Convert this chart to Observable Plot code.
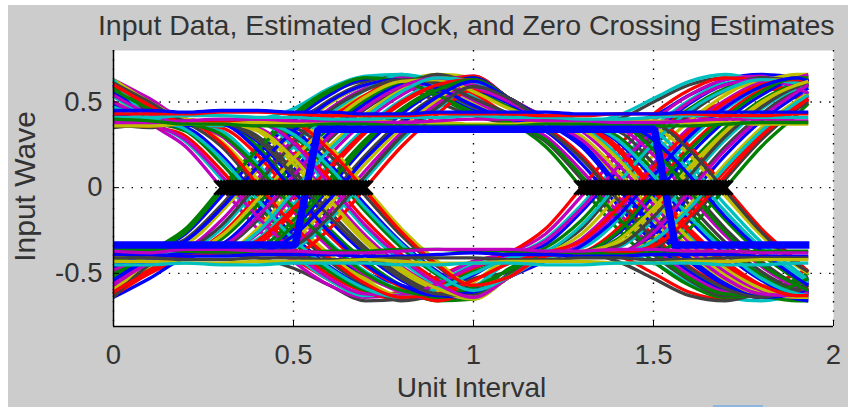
<!DOCTYPE html>
<html><head><meta charset="utf-8">
<script src="https://cdn.jsdelivr.net/npm/d3@7"></script>
<script src="https://cdn.jsdelivr.net/npm/@observablehq/plot@0.6"></script>
<style>
html,body{margin:0;padding:0;background:#fff;width:848px;height:407px;overflow:hidden}
#panel{position:absolute;left:8px;top:5px;width:840px;height:402px;background:#ccc}
#mark{position:absolute;left:713px;top:405px;width:50px;height:2px;background:#8fb6de}
#chart{position:absolute;left:0;top:0}
svg{background:transparent!important;font-family:"Liberation Sans",Arial,sans-serif}
</style></head><body>
<div id="panel"></div><div id="mark"></div><div id="chart"></div>
<script>
const titleText = "Input Data, Estimated Clock, and Zero Crossing Estimates";
const xLabel = "Unit Interval";
const yLabel = "Input Wave";
const xTicks = [0, 0.5, 1, 1.5, 2];
const yTicks = [-0.5, 0, 0.5];
const traceX = [0,.1,.2,.3,.4,.5,.6,.7,.8,.9,1,1.1,1.2,1.3,1.4,1.5,1.6,1.7,1.8,1.9,1.93];
const palette = ["#0000ff","#007f00","#ff0000","#00bfbf","#bf00bf","#bfbf00","#404040"];

const riseFall = [
[-.58,-.38,-.24,0,.24,.43,.57,.64,.62,.53,.43,.38,.24,0,-.24,-.43,-.57,-.64,-.62,-.53,-.5],
[-.44,-.38,-.27,-.05,.19,.39,.54,.63,.62,.55,.45,.39,.33,.14,-.10,-.32,-.49,-.60,-.63,-.58,-.55],
[-.62,-.38,-.30,-.10,.14,.35,.51,.61,.65,.57,.47,.38,.27,.05,-.19,-.39,-.54,-.63,-.62,-.55,-.52],
[-.41,-.38,-.33,-.14,.10,.32,.49,.60,.63,.58,.49,.41,.38,.27,.05,-.19,-.39,-.54,-.63,-.62,-.60],
[-.60,-.38,-.35,-.19,.05,.28,.46,.58,.64,.60,.51,.40,.30,.10,-.14,-.35,-.51,-.61,-.63,-.57,-.54],
[-.55,-.44,-.38,-.24,0,.24,.43,.57,.66,.62,.53,.43,.38,.35,.19,-.05,-.28,-.46,-.58,-.64,-.64],
[-.36,-.37,-.38,-.27,-.05,.19,.39,.54,.63,.62,.55,.42,.35,.19,-.05,-.28,-.46,-.58,-.64,-.60,-.58],
[-.50,-.41,-.38,-.30,-.10,.14,.35,.51,.61,.65,.57,.47,.40,.38,.30,.10,-.14,-.35,-.51,-.61,-.63],
[-.39,-.36,-.38,-.33,-.14,.10,.32,.49,.60,.63,.58,.49,.38,.24,0,-.24,-.43,-.57,-.64,-.62,-.60],
[-.60,-.47,-.38,-.35,-.19,.05,.28,.46,.58,.66,.60,.51,.42,.38,.38,.24,0,-.24,-.43,-.57,-.60],
[-.42,-.38,-.36,-.38,-.24,0,.24,.43,.57,.64,.62,.52,.40,.30,.10,-.14,-.35,-.51,-.61,-.63,-.62],
[-.56,-.43,-.39,-.38,-.27,-.05,.19,.39,.54,.63,.64,.52,.41,.33,.14,-.10,-.32,-.49,-.60,-.63,-.62],
[-.37,-.35,-.38,-.38,-.30,-.10,.14,.35,.51,.61,.63,.52,.40,.38,.38,.33,.14,-.10,-.32,-.49,-.54],
[-.63,-.50,-.40,-.38,-.33,-.14,.10,.32,.49,.60,.65,.52,.41,.38,.24,0,-.24,-.43,-.57,-.64,-.64],
[-.45,-.39,-.37,-.38,-.35,-.19,.05,.28,.46,.58,.64,.52,.40,.38,.38,.27,.05,-.19,-.39,-.54,-.58],
[-.53,-.42,-.38,-.36,-.38,-.24,0,.24,.43,.57,.64,.52,.41,.38,.27,.05,-.19,-.39,-.54,-.63,-.63],
[-.38,-.36,-.39,-.38,-.38,-.27,-.05,.19,.39,.54,.63,.52,.40,.37,.33,.14,-.10,-.32,-.49,-.60,-.62],
[-.59,-.46,-.37,-.38,-.38,-.30,-.10,.14,.35,.51,.61,.52,.40,.38,.38,.35,.19,-.05,-.28,-.46,-.50],
[-.48,-.40,-.36,-.38,-.38,-.33,-.14,.10,.32,.49,.60,.52,.41,.38,.35,.19,-.05,-.28,-.46,-.58,-.60],
[-.35,-.37,-.38,-.38,-.37,-.35,-.19,.05,.28,.46,.58,.52,.40,.38,.38,.30,.10,-.14,-.35,-.51,-.55],
[-.61,-.48,-.38,-.38,-.38,-.38,-.24,0,.24,.43,.57,.51,.40,.38,.38,.38,.24,0,-.24,-.43,-.49],
[-.52,-.38,-.26,-.02,.22,.41,.56,.64,.62,.54,.44,.38,.28,.07,-.17,-.37,-.53,-.62,-.63,-.56,-.53],
[-.46,-.38,-.31,-.12,.12,.33,.50,.60,.63,.58,.48,.40,.38,.26,.02,-.22,-.41,-.56,-.64,-.62,-.60],
[-.64,-.45,-.37,-.22,.02,.26,.45,.57,.63,.61,.52,.43,.34,.17,-.07,-.30,-.47,-.59,-.64,-.59,-.57],
[-.40,-.37,-.38,-.28,-.07,.17,.37,.53,.62,.63,.56,.46,.39,.34,.17,-.07,-.30,-.47,-.59,-.64,-.64],
[-.57,-.44,-.38,-.34,-.17,.07,.30,.47,.59,.64,.59,.50,.39,.28,.07,-.17,-.37,-.53,-.62,-.63,-.61],
[-.36,-.38,-.37,-.38,-.26,-.02,.22,.41,.56,.64,.62,.52,.41,.38,.28,.07,-.17,-.37,-.53,-.62,-.63],
[-.61,-.49,-.39,-.38,-.31,-.12,.12,.33,.50,.60,.63,.52,.41,.37,.22,-.02,-.26,-.45,-.57,-.63,-.63],
[-.43,-.38,-.36,-.38,-.37,-.22,.02,.26,.45,.57,.63,.52,.40,.38,.37,.22,-.02,-.26,-.45,-.57,-.60],
[-.54,-.42,-.38,-.37,-.38,-.28,-.07,.17,.37,.53,.62,.52,.41,.38,.38,.28,.07,-.17,-.37,-.53,-.57],
[-.38,-.35,-.37,-.38,-.38,-.34,-.17,.07,.30,.47,.59,.52,.40,.38,.38,.37,.22,-.02,-.26,-.45,-.49]
];

const fallRise = [
[.58,.38,.24,0,-.24,-.43,-.57,-.64,-.62,-.53,-.43,-.38,-.27,-.05,.19,.39,.54,.63,.65,.55,.52],
[.44,.38,.27,.05,-.19,-.39,-.54,-.63,-.62,-.55,-.45,-.40,-.30,-.10,.14,.35,.51,.61,.63,.57,.54],
[.62,.38,.30,.10,-.14,-.35,-.51,-.61,-.65,-.57,-.47,-.38,-.24,0,.24,.43,.57,.64,.62,.53,.50],
[.41,.38,.33,.14,-.10,-.32,-.49,-.60,-.63,-.58,-.49,-.42,-.35,-.19,.05,.28,.46,.58,.64,.60,.58],
[.60,.38,.35,.19,-.05,-.28,-.46,-.58,-.64,-.60,-.51,-.39,-.33,-.14,.10,.32,.49,.60,.63,.58,.55],
[.55,.44,.38,.24,0,-.24,-.43,-.57,-.66,-.62,-.53,-.49,-.38,-.24,0,.24,.43,.57,.64,.62,.60],
[.36,.37,.38,.27,.05,-.19,-.39,-.54,-.63,-.62,-.55,-.41,-.38,-.27,-.05,.19,.39,.54,.63,.62,.60],
[.50,.41,.38,.30,.10,-.14,-.35,-.51,-.61,-.65,-.57,-.52,-.40,-.30,-.10,.14,.35,.51,.61,.63,.62],
[.39,.36,.38,.33,.14,-.10,-.32,-.49,-.60,-.63,-.58,-.43,-.38,-.35,-.19,.05,.28,.46,.58,.64,.64],
[.60,.47,.38,.35,.19,-.05,-.28,-.46,-.58,-.66,-.60,-.52,-.40,-.38,-.38,-.33,-.14,.10,.32,.49,.54],
[.42,.38,.36,.38,.24,0,-.24,-.43,-.57,-.64,-.62,-.47,-.40,-.38,-.30,-.10,.14,.35,.51,.61,.63],
[.56,.43,.39,.38,.27,.05,-.19,-.39,-.54,-.63,-.64,-.52,-.40,-.38,-.38,-.27,-.05,.19,.39,.54,.58],
[.37,.35,.38,.38,.30,.10,-.14,-.35,-.51,-.61,-.63,-.51,-.42,-.38,-.38,-.24,0,.24,.43,.57,.60],
[.63,.50,.40,.38,.33,.14,-.10,-.32,-.49,-.60,-.65,-.52,-.40,-.37,-.33,-.14,.10,.32,.49,.60,.62],
[.45,.39,.37,.38,.35,.19,-.05,-.28,-.46,-.58,-.64,-.52,-.41,-.33,-.14,.10,.32,.49,.60,.63,.62],
[.53,.42,.38,.36,.38,.24,0,-.24,-.43,-.57,-.64,-.52,-.41,-.38,-.35,-.19,.05,.28,.46,.58,.60],
[.38,.36,.39,.38,.38,.27,.05,-.19,-.39,-.54,-.63,-.52,-.41,-.38,-.24,0,.24,.43,.57,.64,.64],
[.59,.46,.37,.38,.38,.30,.10,-.14,-.35,-.51,-.61,-.51,-.40,-.38,-.38,-.38,-.24,0,.24,.43,.49],
[.48,.40,.36,.38,.38,.33,.14,-.10,-.32,-.49,-.60,-.52,-.41,-.38,-.27,-.05,.19,.39,.54,.63,.63],
[.35,.37,.38,.38,.37,.35,.19,-.05,-.28,-.46,-.58,-.52,-.40,-.38,-.38,-.35,-.19,.05,.28,.46,.50],
[.61,.48,.38,.38,.38,.38,.24,0,-.24,-.43,-.57,-.52,-.40,-.38,-.38,-.30,-.10,.14,.35,.51,.55],
[.50,.38,.28,.07,-.17,-.37,-.53,-.62,-.63,-.56,-.46,-.40,-.31,-.12,.12,.33,.50,.60,.63,.58,.55],
[.63,.41,.34,.17,-.07,-.30,-.47,-.59,-.64,-.59,-.50,-.41,-.37,-.22,.02,.26,.45,.57,.63,.61,.60],
[.40,.36,.38,.26,.02,-.22,-.41,-.56,-.64,-.62,-.54,-.44,-.38,-.31,-.12,.12,.33,.50,.60,.63,.62],
[.57,.46,.38,.31,.12,-.12,-.33,-.50,-.60,-.63,-.58,-.48,-.40,-.38,-.26,-.02,.22,.41,.56,.64,.64],
[.43,.39,.38,.37,.22,-.02,-.26,-.45,-.57,-.63,-.61,-.52,-.43,-.34,-.17,.07,.30,.47,.59,.64,.62],
[.61,.50,.39,.38,.28,.07,-.17,-.37,-.53,-.62,-.63,-.52,-.41,-.38,-.34,-.17,.07,.30,.47,.59,.61],
[.37,.36,.38,.38,.34,.17,-.07,-.30,-.47,-.59,-.64,-.52,-.41,-.38,-.31,-.12,.12,.33,.50,.60,.62],
[.54,.43,.38,.37,.38,.26,.02,-.22,-.41,-.56,-.64,-.52,-.40,-.38,-.38,-.26,-.02,.22,.41,.56,.60],
[.47,.40,.37,.38,.38,.31,.12,-.12,-.33,-.50,-.60,-.52,-.41,-.38,-.38,-.31,-.12,.12,.33,.50,.54],
[.60,.48,.38,.38,.38,.37,.22,-.02,-.26,-.45,-.57,-.52,-.40,-.38,-.38,-.34,-.17,.07,.30,.47,.52]
];

const humpsHigh = [
[.55,.45,.38,.38,.38,.40,.50,.60,.64,.62,.52,.43,.38,.38,.38,.42,.54,.63,.66,.64,.62],
[.60,.48,.40,.38,.38,.42,.55,.62,.60,.50,.42,.38,.38,.38,.40,.50,.60,.64,.60,.52,.50],
[.50,.42,.38,.38,.38,.38,.44,.54,.62,.66,.64,.50,.39,.38,.38,.38,.46,.56,.62,.66,.66],
[.63,.52,.40,.38,.38,.38,.40,.48,.56,.62,.65,.52,.40,.38,.38,.38,.40,.50,.58,.64,.66],
[.46,.40,.38,.39,.40,.46,.58,.65,.66,.56,.46,.40,.38,.38,.42,.52,.62,.66,.62,.56,.54],
[.57,.44,.38,.38,.38,.38,.42,.52,.58,.60,.60,.50,.41,.38,.38,.38,.42,.50,.56,.60,.61]
];

const humpsLow = [
[-.52,-.43,-.38,-.38,-.38,-.40,-.48,-.58,-.65,-.63,-.54,-.44,-.38,-.38,-.38,-.44,-.56,-.64,-.66,-.62,-.60],
[-.62,-.50,-.41,-.38,-.38,-.42,-.54,-.63,-.61,-.52,-.43,-.39,-.38,-.38,-.40,-.50,-.61,-.65,-.60,-.50,-.48],
[-.48,-.41,-.38,-.38,-.38,-.38,-.43,-.52,-.60,-.66,-.65,-.52,-.40,-.38,-.38,-.38,-.47,-.58,-.63,-.66,-.66],
[-.64,-.53,-.41,-.38,-.38,-.38,-.41,-.50,-.57,-.63,-.64,-.50,-.39,-.38,-.38,-.38,-.41,-.51,-.59,-.65,-.66],
[-.47,-.41,-.38,-.39,-.41,-.47,-.57,-.66,-.65,-.57,-.47,-.41,-.38,-.38,-.43,-.53,-.63,-.66,-.61,-.55,-.53],
[-.58,-.45,-.38,-.38,-.38,-.38,-.43,-.53,-.59,-.61,-.61,-.51,-.41,-.38,-.38,-.38,-.43,-.51,-.57,-.61,-.62]
];

const steadyHigh = [
[.36,.36,.37,.37,.38,.38,.38,.39,.38,.38,.37,.37,.38,.38,.39,.39,.38,.38,.37,.37,.37],
[.38,.38,.39,.40,.40,.39,.39,.38,.38,.39,.40,.40,.39,.39,.38,.38,.39,.40,.40,.39,.39],
[.41,.41,.42,.42,.41,.41,.40,.40,.41,.41,.42,.41,.41,.40,.40,.41,.42,.42,.41,.41,.41],
[.43,.43,.43,.44,.44,.43,.42,.42,.42,.43,.43,.43,.42,.42,.43,.43,.43,.42,.42,.43,.43],
[.40,.39,.37,.37,.36,.36,.37,.37,.36,.36,.36,.36,.37,.37,.36,.36,.36,.37,.38,.38,.38],
[.45,.45,.44,.45,.45,.44,.44,.43,.43,.44,.44,.44,.44,.43,.43,.43,.44,.44,.44,.44,.44]
];

const steadyLow = [
[-.36,-.36,-.37,-.37,-.38,-.38,-.37,-.37,-.36,-.36,-.37,-.37,-.38,-.38,-.39,-.39,-.38,-.38,-.37,-.37,-.37],
[-.39,-.39,-.40,-.40,-.39,-.39,-.39,-.40,-.40,-.39,-.38,-.39,-.39,-.40,-.40,-.39,-.39,-.39,-.40,-.40,-.40],
[-.41,-.41,-.42,-.42,-.41,-.41,-.42,-.42,-.41,-.41,-.41,-.42,-.42,-.41,-.41,-.42,-.42,-.41,-.41,-.41,-.41],
[-.43,-.43,-.44,-.44,-.43,-.43,-.43,-.42,-.43,-.44,-.44,-.43,-.43,-.43,-.44,-.44,-.43,-.43,-.42,-.42,-.42],
[-.37,-.38,-.36,-.36,-.37,-.37,-.38,-.38,-.37,-.36,-.36,-.36,-.37,-.37,-.36,-.36,-.37,-.37,-.38,-.38,-.38],
[-.45,-.45,-.44,-.45,-.45,-.44,-.44,-.44,-.45,-.45,-.44,-.44,-.45,-.45,-.44,-.44,-.44,-.45,-.45,-.44,-.44]
];

const clockX = [0, 0.505, 0.568, 1.503, 1.56, 1.933];
const clockY = [-0.335, -0.335, 0.34, 0.34, -0.335, -0.335];

const crossingX = [
.300,.308,.316,.324,.332,.340,.348,.356,.364,.372,.380,.388,.396,.404,.412,.420,.428,.436,.444,.452,.460,.468,.476,.484,.492,
.500,.508,.516,.524,.532,.540,.548,.556,.564,.572,.580,.588,.596,.604,.612,.620,.628,.636,.644,.652,.660,.668,.676,.684,.692,.700,
1.300,1.308,1.316,1.324,1.332,1.340,1.348,1.356,1.364,1.372,1.380,1.388,1.396,1.404,1.412,1.420,1.428,1.436,1.444,1.452,1.460,1.468,1.476,1.484,1.492,
1.500,1.508,1.516,1.524,1.532,1.540,1.548,1.556,1.564,1.572,1.580,1.588,1.596,1.604,1.612,1.620,1.628,1.636,1.644,1.652,1.660,1.668,1.676,1.684,1.692,1.700
];

const rows = [];
const groups = [];
humpsHigh.forEach((t, i) => { groups.push(t); groups.push(humpsLow[i]); });
riseFall.forEach((t, i) => { groups.push(t); groups.push(fallRise[i]); });
steadyHigh.forEach((t, i) => { groups.push(t); groups.push(steadyLow[i]); });
groups.forEach((t, id) => t.forEach((y, j) => rows.push({id, x: traceX[j], y, c: palette[(id * 3) % palette.length]})));
const clock = clockX.map((x, i) => ({x, y: clockY[i]}));

const gridStyle = {stroke: "#000", strokeOpacity: 1, strokeWidth: 1.4, strokeDasharray: "1.4 7.9"};

const plot = Plot.plot({
  width: 848, height: 407,
  marginLeft: 113, marginRight: 15, marginTop: 50, marginBottom: 81,
  x: {domain: [0, 2]},
  y: {domain: [-0.81, 0.8]},
  color: {type: "identity"},
  style: {background: "transparent"},
  marks: [
    Plot.frame({fill: "#fff", stroke: null}),
    Plot.gridX(xTicks, gridStyle),
    Plot.gridY(yTicks, gridStyle),
    Plot.line(rows, {x: "x", y: "y", z: "id", stroke: "c", strokeWidth: 3.3, strokeLinecap: "butt", curve: "monotone-x"}),
    Plot.line(clock, {x: "x", y: "y", stroke: "#0000ff", strokeWidth: 7.5, strokeLinejoin: "miter", strokeLinecap: "butt"}),
    Plot.dot(crossingX, {x: d => d, y: () => 0, symbol: "times", r: 6.5, stroke: "#000", strokeWidth: 2.8}),
    Plot.ruleX([0], {stroke: "#000", strokeWidth: 1.5}),
    Plot.ruleY([-0.81], {stroke: "#000", strokeWidth: 1.5}),
    Plot.axisX({ticks: xTicks, tickFormat: d => String(d), tickSize: -6, tickPadding: 24, fontSize: 27.5, stroke: "#000", color: "#333", label: null}),
    Plot.axisY({ticks: yTicks, tickFormat: d => String(d), tickSize: -6, tickPadding: 17, fontSize: 27.5, stroke: "#000", color: "#333", label: null}),
    Plot.text([titleText], {frameAnchor: "top-right", dy: -36, dx: 1, fontSize: 28.5, fill: "#333", lineAnchor: "top"}),
    Plot.text([xLabel], {frameAnchor: "bottom", dy: 51, dx: -2, fontSize: 28, fill: "#333", lineAnchor: "top"}),
    Plot.text([yLabel], {frameAnchor: "left", dx: -88, dy: -2, rotate: -90, fontSize: 30, fill: "#333", textAnchor: "middle"})
  ]
});
document.getElementById("chart").appendChild(plot);
</script>
</body></html>
